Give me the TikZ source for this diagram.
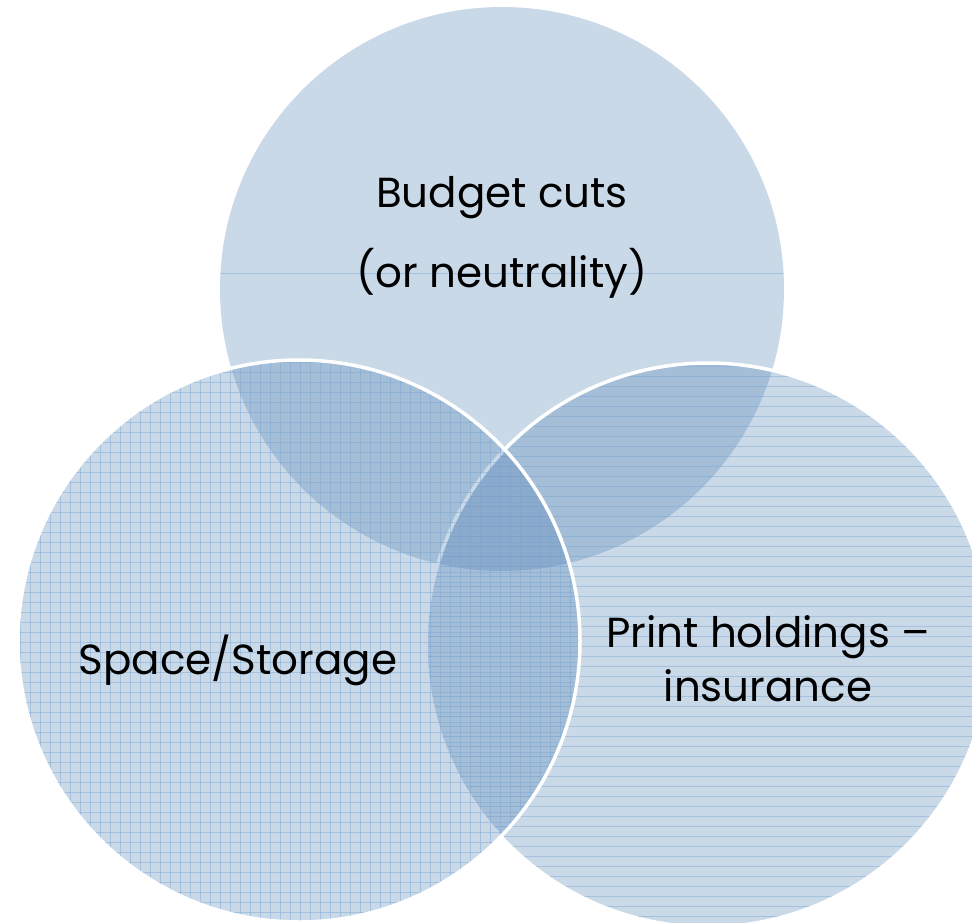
\documentclass[tikz,border=0pt]{standalone}
\usepackage{fontspec}
\setmainfont{Poppins}
\usetikzlibrary{positioning}

\definecolor{vennblue}{RGB}{80,128,178}
\definecolor{vennline}{RGB}{120,165,210}

\tikzset{
  venn/.style={fill=vennblue,fill opacity=0.3},
  vennborder/.style={draw=white,line width=3.5pt},
  gridline/.style={vennline,line width=0.9pt,opacity=0.45},
  label/.style={font=\fontsize{42}{48}\selectfont,text=black,align=center}
}

\begin{document}
\begin{tikzpicture}[x=1pt,y=-1pt]
  \useasboundingbox (0,0) rectangle (972,923);
  \clip (0,0) rectangle (972,923);
  \coordinate (top) at (502,289);
  \coordinate (left) at (299,641);
  \coordinate (right) at (708,645);
  % top
  \fill[venn] (top) circle (282);
  \begin{scope}
    \clip (top) circle (282);
    \draw[gridline] (200,273) -- (800,273);
  \end{scope}
  % right
  \fill[venn] (right) circle (282);
  \begin{scope}
    \clip (right) circle (282);
    \foreach \y in {366,376,...,923} {
      \draw[gridline] (420,\y) -- (972,\y);
    }
  \end{scope}
  \draw[vennborder] (right) circle (282);
  % left
  \fill[venn] (left) circle (281);
  \begin{scope}
    \clip (left) circle (281);
    \foreach \x in {20,30,...,580} {
      \draw[gridline] (\x,355) -- (\x,923);
    }
    \foreach \y in {362,372,...,923} {
      \draw[gridline] (15,\y) -- (585,\y);
    }
  \end{scope}
  \draw[vennborder] (left) circle (281);
  % labels
  \node[label] (budget) at (502,198) {Budget cuts};
  \node[label,below=22pt of budget] (neutral) {(or neutrality)};
  \node[label] (space) at (238,660) {Space/Storage};
  \node[label] (print) at (768,637) {Print holdings --};
  \node[label,below=4pt of print] (insur) {insurance};
\end{tikzpicture}
\end{document}
